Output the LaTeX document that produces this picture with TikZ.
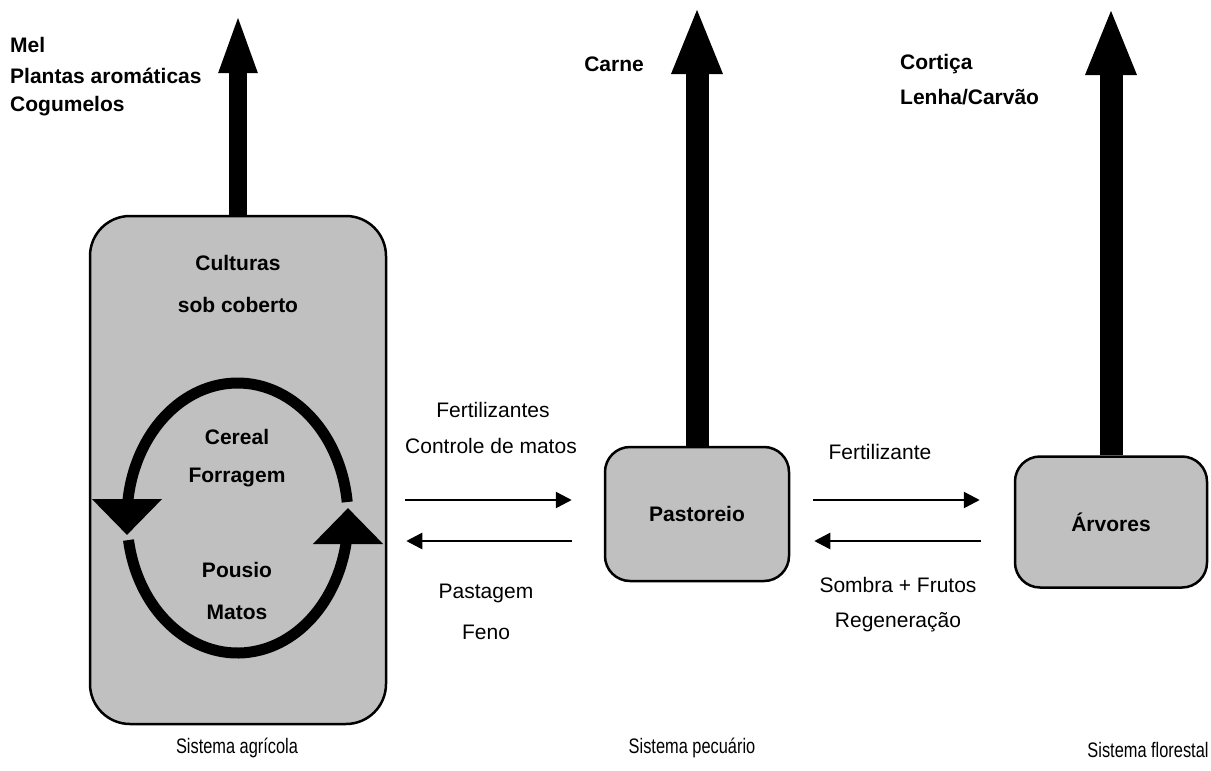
\documentclass[tikz,border=0pt]{standalone}
\usepackage{fontspec}
\setmainfont{Liberation Sans}
\usetikzlibrary{arrows.meta}

\definecolor{boxgray}{RGB}{192,192,192}

\newcommand{\estreito}[1]{\scalebox{0.78}[1]{#1}}

\tikzset{
	sistema/.style={draw, line width=2.5pt, fill=boxgray, inner sep=0pt},
	lbl/.style={font=\fontsize{21}{25}\selectfont, inner sep=0pt},
	blbl/.style={lbl, font=\fontsize{21}{25}\selectfont\bfseries},
	nome/.style={font=\fontsize{21}{25}\selectfont, inner sep=0pt},
	flow/.style={line width=2.5pt, -{Triangle[length=16pt,width=16pt]}},
	output/.style={line width=23pt, -{Triangle[length=68pt,width=46pt]}},
	ring/.style={line width=11pt, -{Triangle[length=36pt,width=68pt]}}
}

\begin{document}
\begin{tikzpicture}[x=1pt, y=-1pt]
	\useasboundingbox (0,0) rectangle (1211,771);

	% os tres sistemas
	\node[sistema, rounded corners=40pt, minimum width=296pt, minimum height=508pt] (agri) at (238,470) {};
	\node[sistema, blbl, rounded corners=25pt, minimum width=184pt, minimum height=134pt] (pasto) at (697,514) {Pastoreio};
	\node[sistema, blbl, rounded corners=25pt, minimum width=192pt, minimum height=131pt] (arv) at (1111,522) {Árvores};

	% produtos
	\coordinate (topagri) at (238,12);
	\coordinate (toppasto) at (697,6);
	\coordinate (toparv) at (1111,7);
	\draw[output, line width=18pt, -{Triangle[length=61pt,width=34pt]}] (agri.north) -- (topagri);
	\draw[output] (pasto.north) -- (toppasto);
	\draw[output] (arv.north) -- (toparv);

	\foreach \t/\y [count=\i] in {Mel/45, Plantas aromáticas/76, Cogumelos/106}
		\node[blbl, anchor=west] (prodagri\i) at (10,\y) {\t};
	\node[blbl, anchor=east] (prodpasto) at (644,64) {Carne};
	\foreach \t/\y [count=\i] in {Cortiça/64, {Lenha/Carvão}/97}
		\node[blbl, anchor=west] (prodarv\i) at (900,\y) {\t};

	% dentro do sistema agricola
	\node[blbl] (cult1) at (238,263) {Culturas};
	\node[blbl] (cult2) at (238,305) {sob coberto};
	\node[blbl] (rot1) at (237,437) {Cereal};
	\node[blbl] (rot2) at (237,477) {Forragem};
	\node[blbl] (rot3) at (237,570) {Pousio};
	\node[blbl] (rot4) at (237,612) {Matos};

	\coordinate (ciclo) at (237.5,518);
	\draw[ring] (ciclo) ++(-6.8:110.5 and 135) arc(-6.8:-180:110.5 and 135) -- ++(0,17);
	\draw[ring] (ciclo) ++(-189.4:110.5 and 135) arc(-189.4:-360:110.5 and 135) -- ++(0,-10);

	% trocas entre sistemas
	\draw[flow, shorten <=18pt, shorten >=32pt] (agri.east |- 0,500) -- (pasto.west |- 0,500);
	\draw[flow, shorten <=32pt, shorten >=19pt] (pasto.west |- 0,541) -- (agri.east |- 0,541);
	\draw[flow, shorten <=23pt, shorten >=34pt] (pasto.east |- 0,500) -- (arv.west |- 0,500);
	\draw[flow, shorten <=33pt, shorten >=24pt] (arv.west |- 0,541) -- (pasto.east |- 0,541);

	\node[lbl] (troca1) at (493,410) {Fertilizantes};
	\node[lbl] (troca2) at (491,446) {Controle de matos};
	\node[lbl] (troca3) at (486,593) {Pastagem};
	\node[lbl] (troca4) at (486,632) {Feno};
	\node[lbl] (troca5) at (880,452) {Fertilizante};
	\node[lbl] (troca6) at (898,585) {Sombra + Frutos};
	\node[lbl] (troca7) at (898,622) {Regeneração};

	\node[nome] (nomeagri) at (237,748) {\estreito{Sistema agrícola}};
	\node[nome] (nomepasto) at (692,748) {\estreito{Sistema pecuário}};
	\node[nome] (nomearv) at (1148,750) {\estreito{Sistema florestal}};
\end{tikzpicture}
\end{document}
